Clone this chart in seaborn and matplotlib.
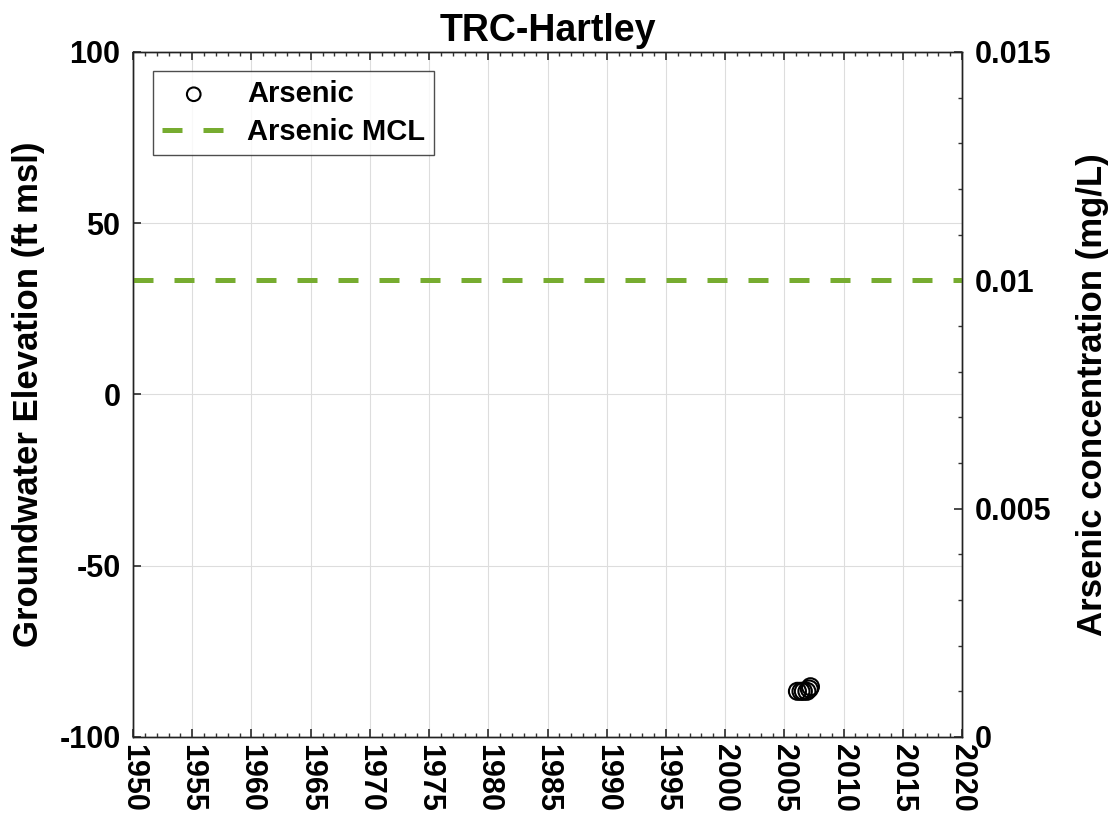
import matplotlib
matplotlib.use("Agg")
import matplotlib.pyplot as plt
from matplotlib.ticker import MultipleLocator
import seaborn as sns
import pandas as pd

title = "TRC-Hartley"
sample_years = [2006.1, 2006.4, 2006.6, 2006.9, 2007.1, 2007.2]
arsenic_mgL = [0.00100, 0.00100, 0.00100, 0.00100, 0.00105, 0.00110]
arsenic_mcl = 0.01
x_ticks = list(range(1950, 2021, 5))
left_ticks = [-100, -50, 0, 50, 100]
right_ticks = [0, 0.005, 0.01, 0.015]
right_labels = ["0", "0.005", "0.01", "0.015"]

sns.set_theme(style="white")
plt.rcParams['font.family'] = ['Liberation Sans', 'DejaVu Sans']
plt.rcParams['font.weight'] = 'bold'
plt.rcParams['text.color'] = 'black'
plt.rcParams['xtick.color'] = 'black'
plt.rcParams['ytick.color'] = 'black'
plt.rcParams['axes.labelcolor'] = 'black'

fig = plt.figure(figsize=(11.14, 8.25), dpi=100)
ax = fig.add_axes([0.1194, 0.1067, 0.7442, 0.8303])
ax2 = ax.twinx()

green = "#77AC30"
df = pd.DataFrame({"year": sample_years, "arsenic": arsenic_mgL})

ax.set_xlim(1950, 2020)
ax.set_ylim(-100, 100)
ax2.set_ylim(0, 0.015)

FS = 22
ax.set_xticks(x_ticks)
ax.set_xticklabels([str(t) for t in x_ticks], rotation=270, fontsize=FS, fontweight='bold')
ax.xaxis.set_minor_locator(MultipleLocator(1))
ax.set_yticks(left_ticks)
ax.set_yticklabels([str(t) for t in left_ticks], fontsize=FS, fontweight='bold')
ax2.set_yticks(right_ticks)
ax2.set_yticklabels(right_labels, fontsize=FS, fontweight='bold')
ax2.yaxis.set_minor_locator(MultipleLocator(0.001))

ax.grid(True, which='major', color='#dddddd', linewidth=0.8)
ax.tick_params(axis='x', which='both', direction='in', top=True, bottom=True, color='#333333')
ax.tick_params(axis='x', which='major', length=6, pad=5)
ax.tick_params(axis='x', which='minor', length=3)
ax.tick_params(axis='y', which='major', direction='in', length=6, left=True, right=False, pad=9, color='#333333')
ax2.tick_params(axis='y', which='major', direction='in', length=6, right=True, left=False, pad=9, color='#333333')
ax2.tick_params(axis='y', which='minor', direction='in', length=3, right=True, left=False, color='#333333')

for a in (ax, ax2):
    for s in a.spines.values():
        s.set_color('#222222')
        s.set_linewidth(1.0)

ax2.axhline(arsenic_mcl, color=green, linestyle=(0, (4, 4.2)), linewidth=3.6, label="Arsenic MCL", zorder=2)
sns.scatterplot(data=df, x="year", y="arsenic", ax=ax2, marker='o', s=150,
                facecolor='none', edgecolor='black', linewidth=1.5, label="Arsenic", zorder=3)

ax.set_ylabel("Groundwater Elevation (ft msl)", fontsize=25, fontweight='bold')
ax2.set_ylabel("Arsenic concentration (mg/L)", fontsize=25, fontweight='bold', rotation=90)
ax.yaxis.set_label_coords(-0.106, 0.5)
ax2.yaxis.set_label_coords(1.138, 0.5)
ax.set_xlabel("")
ax2.set_xlabel("")
ax.set_title(title, fontsize=27, fontweight='bold', pad=8)

handles, labels = ax2.get_legend_handles_labels()
order = [labels.index("Arsenic"), labels.index("Arsenic MCL")]
leg = ax2.legend([handles[i] for i in order], [labels[i] for i in order],
                 loc='upper left', bbox_to_anchor=(0.024, 0.972), fontsize=21,
                 frameon=True, fancybox=False, edgecolor='#222222', handlelength=2.2,
                 handletextpad=0.72, borderpad=0.3, borderaxespad=0.0, labelspacing=0.35,
                 markerscale=0.8)
leg.get_frame().set_linewidth(1.0)
for t in leg.get_texts():
    t.set_fontweight('bold')

fig.savefig("out.png", dpi=100)
